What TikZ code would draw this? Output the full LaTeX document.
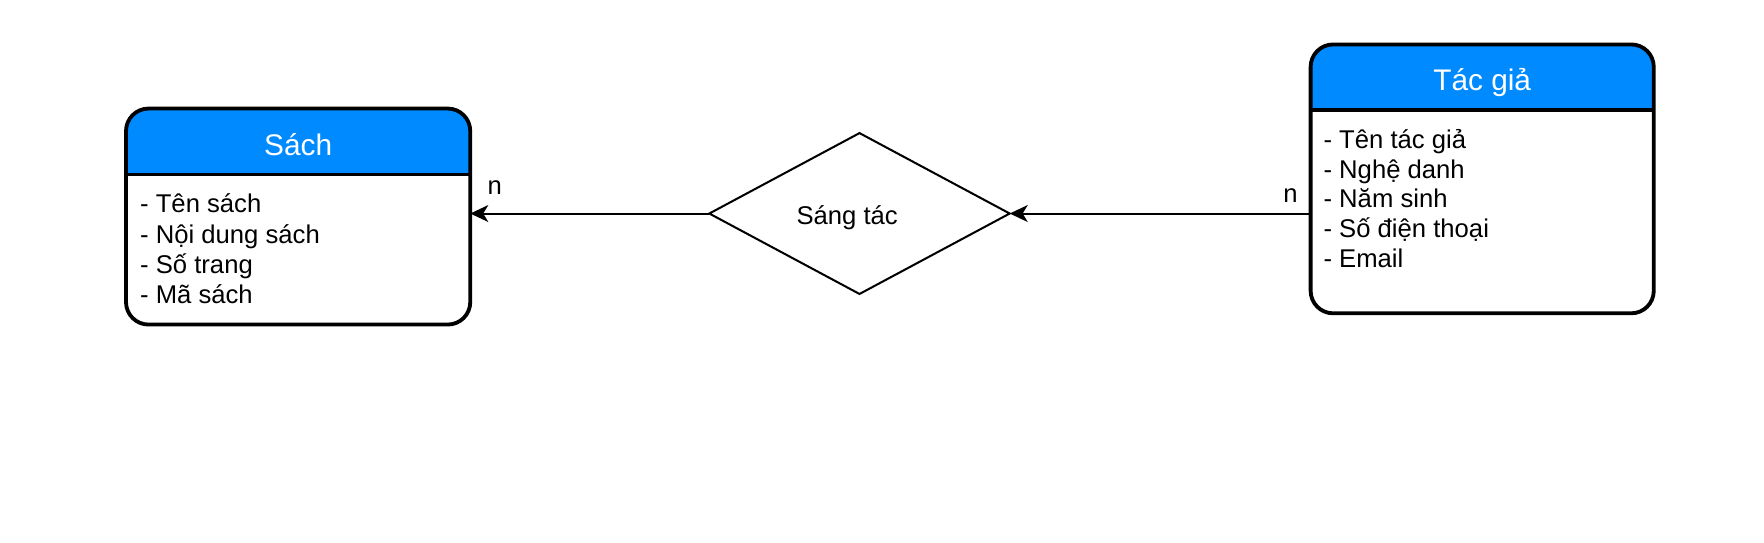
\documentclass[tikz,border=0pt]{standalone}
\usepackage{fontspec}
\setmainfont{Liberation Sans}
\usetikzlibrary{shapes.geometric,arrows.meta,calc}
\definecolor{hdrblue}{HTML}{008AFF}
\tikzset{
  entity/.style={rectangle, draw=none, inner sep=0, outer sep=0},
  border/.style={draw=black, line width=3.4, rounded corners=20},
  hdr/.style={fill=hdrblue},
  title/.style={anchor=base, text=white, inner sep=0, font=\fontsize{26.5}{31}\selectfont},
  attr/.style={anchor=base west, inner sep=0, font=\fontsize{22.8}{27}\selectfont},
  rel/.style={diamond, draw=black, line width=1.8, minimum width=267, minimum height=143, inner sep=0, outer sep=0},
  rellabel/.style={anchor=base, inner sep=0, font=\fontsize{22.8}{27}\selectfont},
  conn/.style={draw=black, line width=1.8, -{Stealth[length=16, width=15, inset=4.5]}},
  card/.style={anchor=base, inner sep=0, font=\fontsize{22.8}{27}\selectfont}
}
\begin{document}
\begin{tikzpicture}[x=1pt, y=-1pt]
\useasboundingbox (0,0) rectangle (1568,481.8);
% Sach entity
\node[entity, minimum width=306, minimum height=192] (sach) at (265,192.5) {};
\begin{scope}
  \clip[rounded corners=20] (sach.north west) rectangle (sach.south east);
  \fill[white] (sach.north west) rectangle (sach.south east);
  \fill[hdr] (sach.north west) rectangle ($(sach.north east)+(0,58.5)$);
\end{scope}
\draw[line width=3.2] ($(sach.north west)+(0,58.5)$) -- ($(sach.north east)+(0,58.5)$);
\draw[border] (sach.north west) rectangle (sach.south east);
\node[title] (sachT) at ($(sach.north)+(0,41.5)$) {Sách};
\node[attr] (s1) at (124.4,189) {- Tên sách};
\node[attr] (s2) at (124.4,216.2) {- Nội dung sách};
\node[attr] (s3) at (124.4,243.2) {- Số trang};
\node[attr] (s4) at (124.4,270.2) {- Mã sách};
% Tac gia entity
\node[entity, minimum width=305, minimum height=239] (tac) at (1317.5,159) {};
\begin{scope}
  \clip[rounded corners=20] (tac.north west) rectangle (tac.south east);
  \fill[white] (tac.north west) rectangle (tac.south east);
  \fill[hdr] (tac.north west) rectangle ($(tac.north east)+(0,58.5)$);
\end{scope}
\draw[line width=3.2] ($(tac.north west)+(0,58.5)$) -- ($(tac.north east)+(0,58.5)$);
\draw[border] (tac.north west) rectangle (tac.south east);
\node[title] (tacT) at ($(tac.north)+(0,41.2)$) {Tác giả};
\node[attr] (t1) at (1176.3,131.9) {- Tên tác giả};
\node[attr] (t2) at (1176.3,158.3) {- Nghệ danh};
\node[attr] (t3) at (1176.3,184.7) {- Năm sinh};
\node[attr] (t4) at (1176.3,211.1) {- Số điện thoại};
\node[attr] (t5) at (1176.3,237.5) {- Email};
% Relationship
\node[rel] (sangtac) at (764,189.8) {};
\node[rellabel] (sangtacL) at (753,199.4) {Sáng tác};
% Connectors
\draw[conn] (sangtac.west) -- (sangtac.west -| sach.east);
\draw[conn] (tac.west |- sangtac.east) -- (sangtac.east);
\node[card] (n1) at (439.7,173.3) {n};
\node[card] (n2) at (1147,180) {n};
\end{tikzpicture}
\end{document}
